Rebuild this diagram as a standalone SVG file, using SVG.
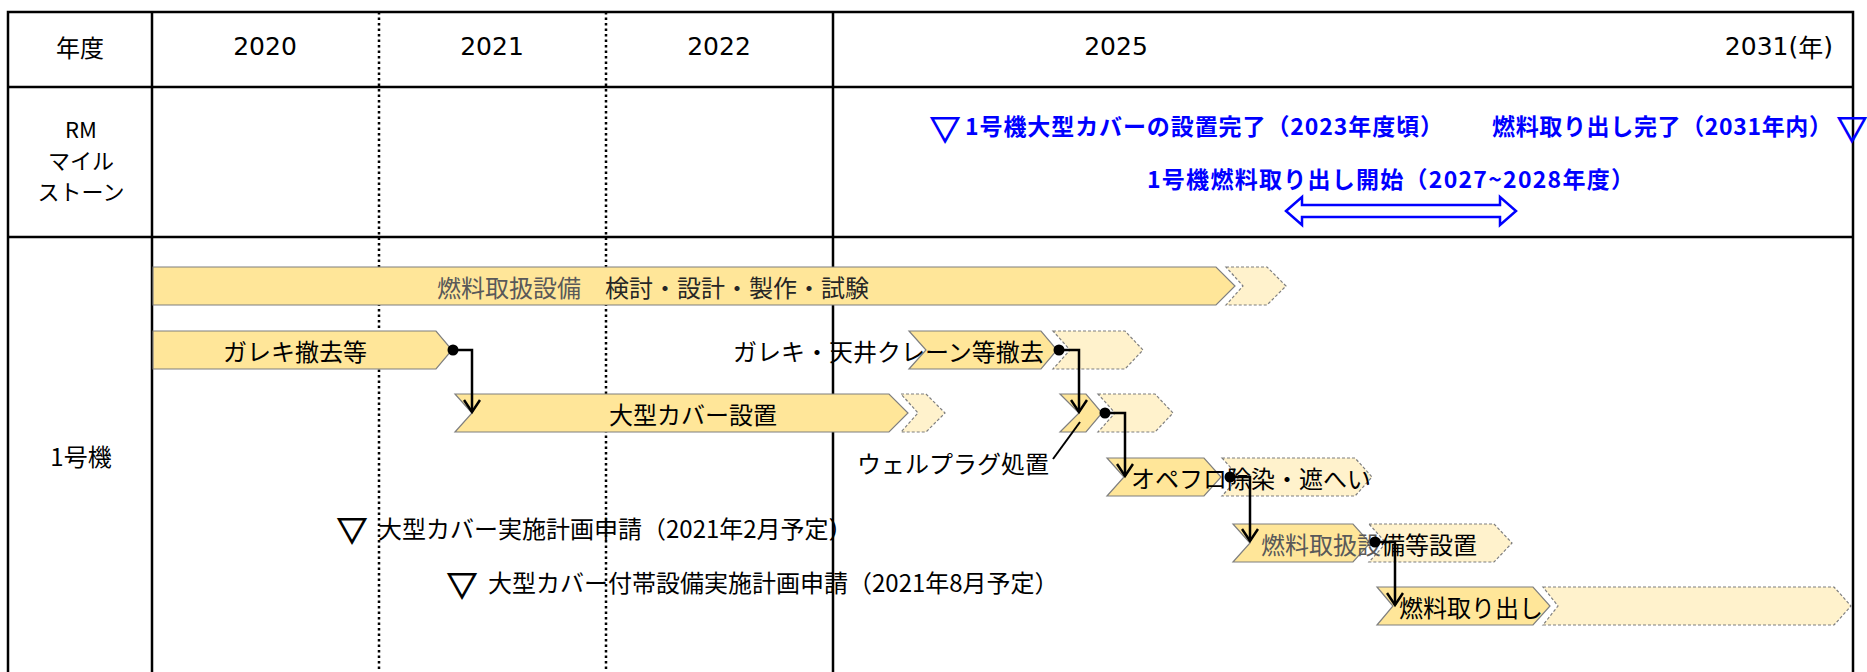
<svg xmlns="http://www.w3.org/2000/svg" width="1867" height="672" viewBox="0 0 1867 672">
<defs>
<style>
.t{font-family:'Noto Sans CJK JP','Noto Sans',sans-serif;font-size:24px;fill:#000;dominant-baseline:central}
.s{font-family:'Noto Sans CJK JP','Noto Sans',sans-serif;font-size:22px;fill:#000;dominant-baseline:central;text-anchor:middle}
.h{font-family:'DejaVu Sans','Noto Sans CJK JP',sans-serif;font-size:25px;fill:#000;dominant-baseline:central}
.b{font-family:'Noto Sans CJK JP','Noto Sans',sans-serif;font-size:23px;font-weight:bold;fill:#0000FF;dominant-baseline:central}
.g{fill:#595959}
.k{fill:#262626}
.bar{fill:#FFE699;stroke:#7F7F7F;stroke-width:1.2}
.fut{fill:#FFF2CC;stroke:#7F7F7F;stroke-width:1.2;stroke-dasharray:3 2}
.grid{stroke:#000;stroke-width:2.5;fill:none}
.dot{stroke:#000;stroke-width:2.5;fill:none;stroke-dasharray:2.5 3}
.con{stroke:#000;stroke-width:2.5;fill:none;marker-end:url(#arr)}
.tri{font-family:'Noto Sans CJK JP','DejaVu Sans',sans-serif;font-size:30px;font-weight:bold;dominant-baseline:central;text-anchor:middle;stroke-width:1.2}
</style>
<marker id="arr" markerWidth="18" markerHeight="18" refX="15" refY="9" orient="auto" markerUnits="userSpaceOnUse">
<path d="M3,1 L15,9 L3,17" fill="none" stroke="#000" stroke-width="2.5"/>
</marker>
</defs>

<g id="table">
<rect x="8" y="12" width="1845" height="700" class="grid"/>
<line x1="8" y1="87" x2="1853" y2="87" class="grid"/>
<line x1="8" y1="237" x2="1853" y2="237" class="grid"/>
<line x1="152" y1="12" x2="152" y2="672" class="grid"/>
<line x1="379" y1="12" x2="379" y2="672" class="dot"/>
<line x1="606" y1="12" x2="606" y2="672" class="dot"/>
<line x1="833" y1="12" x2="833" y2="672" class="grid"/>
<text x="80" y="46" class="t" text-anchor="middle">年度</text>
<text x="265" y="46" class="h" text-anchor="middle">2020</text>
<text x="492" y="46" class="h" text-anchor="middle">2021</text>
<text x="719" y="46" class="h" text-anchor="middle">2022</text>
<text x="1116" y="46" class="h" text-anchor="middle">2025</text>
<text x="1833" y="46" class="h" text-anchor="end">2031(<tspan font-family="'Noto Sans CJK JP',sans-serif">年</tspan>)</text>
<text x="81" y="128" class="s">RM</text>
<text x="81" y="159" class="s">マイル</text>
<text x="81" y="190" class="s">ストーン</text>
<text x="81" y="455" class="t" text-anchor="middle">1号機</text>
</g>

<g id="rm-milestones">
<text x="945" y="127" class="tri" fill="#0000FF" stroke="#0000FF">▽</text>
<text x="965" y="125" class="b" textLength="478">1号機大型カバーの設置完了（2023年度頃）</text>
<text x="1492" y="125" class="b" textLength="340">燃料取り出し完了（2031年内）</text>
<text x="1852" y="127" class="tri" fill="#0000FF" stroke="#0000FF">▽</text>
<text x="1147" y="178" class="b" textLength="487">1号機燃料取り出し開始（2027~2028年度）</text>
<polygon points="1286,211 1302,197 1302,205 1500,205 1500,197 1516,211 1500,225 1500,217 1302,217 1302,225" fill="#fff" stroke="#0000FF" stroke-width="2.5"/>
</g>

<g id="n-fuel-design">
<polygon class="bar" points="153,267 1216,267 1235,286 1216,305 153,305"/>
<polygon class="fut" points="1226,267 1267,267 1286,286 1267,305 1226,305 1243,286"/>
<text x="437" y="286" class="t"><tspan class="g">燃料取扱設備</tspan><tspan class="k">　検討・設計・製作・試験</tspan></text>
</g>

<g id="n-rubble">
<polygon class="bar" points="153,331 436,331 452,350 436,369 153,369"/>
<text x="223" y="350" class="t">ガレキ撤去等</text>
</g>

<g id="n-cover">
<polygon class="bar" points="455,394 889,394 908,413 889,432 455,432 472,413"/>
<polygon class="fut" points="901,394 926,394 945,413 926,432 901,432 918,413"/>
<text x="609" y="413" class="t">大型カバー設置</text>
</g>

<g id="n-crane">
<polygon class="bar" points="909,331 1041,331 1057,350 1041,369 909,369 926,350"/>
<polygon class="fut" points="1053,331 1125,331 1143,350 1125,369 1053,369 1070,350"/>
<text x="733" y="350" class="t">ガレキ・天井クレーン等撤去</text>
</g>

<g id="n-wellplug">
<polygon class="bar" points="1060,394 1086,394 1102,413 1086,432 1060,432 1079,413"/>
<polygon class="fut" points="1098,394 1155,394 1173,413 1155,432 1098,432 1115,413"/>
<line x1="1080" y1="422" x2="1053" y2="459" stroke="#000" stroke-width="2"/>
<text x="1049" y="462" class="t" text-anchor="end">ウェルプラグ処置</text>
</g>

<g id="n-opefloor">
<polygon class="bar" points="1107,458 1204,458 1221,477 1204,496 1107,496 1124,477"/>
<polygon class="fut" points="1222,458 1355,458 1372,477 1355,496 1222,496 1239,477"/>
<text x="1131" y="477" class="t">オペフロ除染・遮へい</text>
</g>

<g id="n-fhm">
<polygon class="bar" points="1233,524 1353,524 1370,543 1353,562 1233,562 1250,543"/>
<polygon class="fut" points="1369,524 1494,524 1512,543 1494,562 1369,562 1386,543"/>
<text x="1261" y="543" class="t"><tspan class="g">燃料取扱設</tspan>備等設置</text>
</g>

<g id="n-removal">
<polygon class="bar" points="1377,587 1533,587 1550,606 1533,625 1377,625 1393,606"/>
<polygon class="fut" points="1543,587 1834,587 1851,606 1834,625 1543,625 1558,606"/>
<text x="1399" y="606" class="t">燃料取り出し</text>
</g>

<g id="n-ms-cover">
<text x="352" y="528" class="tri" fill="#000" stroke="#000">▽</text>
<text x="378" y="527" class="t">大型カバー実施計画申請（2021年2月予定）</text>
</g>

<g id="n-ms-aux">
<text x="462" y="583" class="tri" fill="#000" stroke="#000">▽</text>
<text x="488" y="581" class="t">大型カバー付帯設備実施計画申請（2021年8月予定）</text>
</g>

<g id="connectors">
<path class="con" d="M453,350 H472 V412"/>
<path class="con" d="M1059,350 H1079 V412"/>
<path class="con" d="M1105,413 H1125 V476"/>
<path class="con" d="M1230,477 H1250 V541"/>
<path class="con" d="M1375,542 H1395 V605"/>
<circle cx="453" cy="350" r="5.5"/>
<circle cx="1059" cy="350" r="5.5"/>
<circle cx="1105" cy="413" r="5.5"/>
<circle cx="1230" cy="477" r="5.5"/>
<circle cx="1375" cy="542" r="5.5"/>
</g>
</svg>
